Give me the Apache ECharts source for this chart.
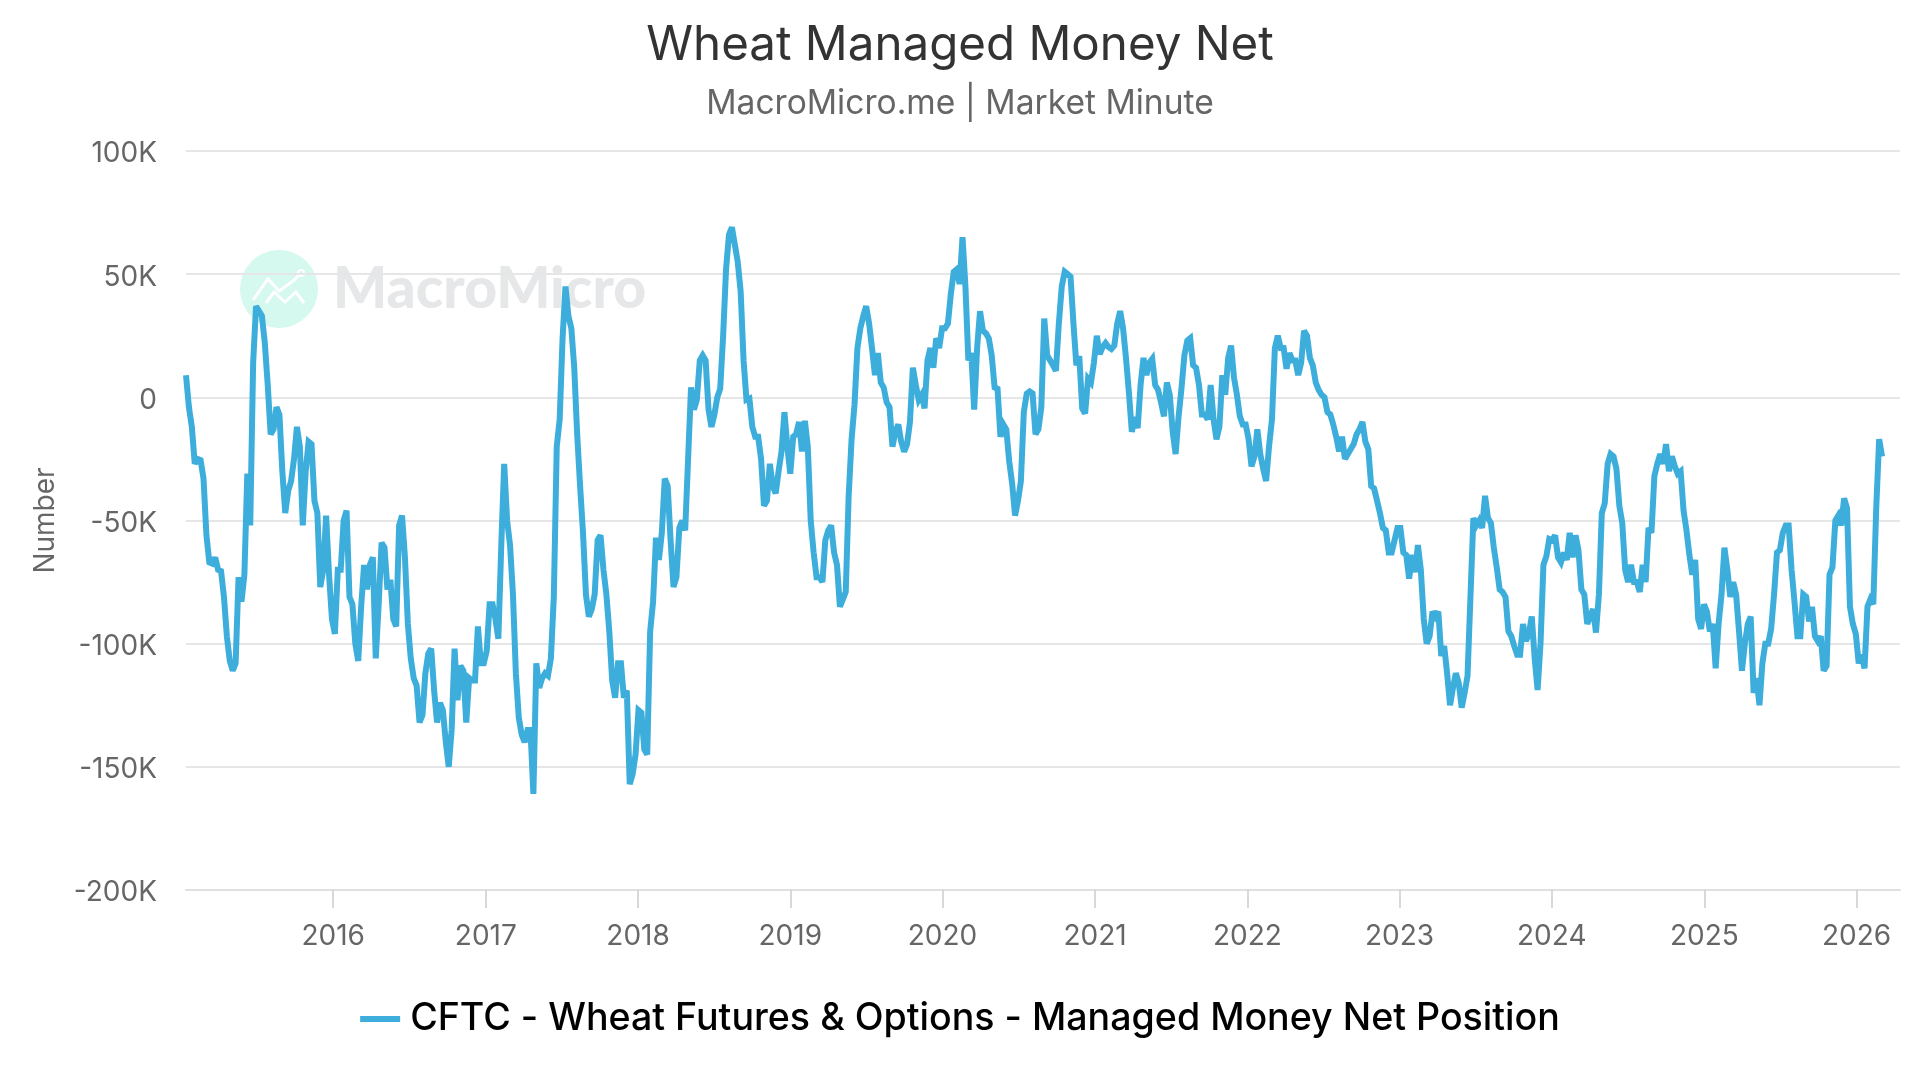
<!DOCTYPE html>
<html><head><meta charset="utf-8">
<style>html,body{margin:0;padding:0;background:#fff}#c{width:1920px;height:1080px}</style>
<script src="https://cdn.jsdelivr.net/npm/echarts@6/dist/echarts.min.js"></script>
</head><body><div id="c"></div>
<script>
const titleText = "Wheat Managed Money Net";
const subtitleText = "MacroMicro.me | Market Minute";
const seriesName = "CFTC - Wheat Futures & Options - Managed Money Net Position";
const firstReport = "2015-01-13";
const axisStart = "2015-01-13";
const axisEnd = "2026-04-15";
// weekly managed money net position, thousands of contracts
const netPositionK = [
9,-4,-12,-27,-25,-25.5,-33,-56,-67,-67.5,
-65,-70,-70.5,-81,-97,-107,-111,-108,-73,-83,
-72,-31,-52,14,37,35,33,22,5,-15,
-13,-4,-7,-30,-47,-38,-34,-25,-12,-20,
-52,-30,-18,-19,-42,-47,-77,-70,-48,-72,
-90,-96,-70,-70,-50,-46,-81,-84,-100,-107,
-85,-68,-78,-68,-65,-106,-84,-59,-61,-78,
-74,-90,-93,-52,-48,-65,-92,-106,-114,-117,
-132,-129,-112,-104,-102,-119,-132,-124,-127,-140,
-150,-135,-102,-123,-109,-111,-132,-114,-115,-115,
-93,-108,-108,-103,-84,-84,-90,-98,-60,-27,
-50,-60,-80,-112,-130,-137,-140,-135,-135,-161,
-108,-118,-114,-112,-113,-106,-81,-20,-9,24,
45,33,28,12,-15,-36,-55,-80,-89,-86,
-80,-58,-56,-70,-80,-95,-115,-122,-108,-108,
-122,-119,-157,-153,-145,-127,-128,-143,-145,-95,
-83,-57,-66,-55,-33,-36,-58,-77,-73,-53,
-50,-54,-25,4,-5,-1,15,17,15,-5,
-12,-7,0,3.5,25,52,66,69,62,55,
43,15,-1,-0.5,-12,-16,-16,-25,-44,-42,
-27,-36,-39,-30,-22,-6,-20,-31,-16,-15,
-10,-22,-9.5,-20,-50,-63,-73,-73,-75,-58,
-54,-52,-63,-68,-85,-82,-79,-40,-17,-3,
20,28,33,37,30,20,9,18,6,4,
-2,-4,-20,-14,-11,-18,-22,-19,-10,12,
5,-1,1,-4.5,15,20,12,24,20,28,
28,30,42,51,52,46,65,45,15,18,
-5,20,35,27,26,24,17,4,3.5,-16,
-11,-13,-26,-35,-48,-42,-34,-6,1.5,2.4,
1.6,-15,-13,-4,32,17,15,13,10.8,30,
45,51,50,49,30,13,16.7,-4.5,-6.6,7.5,
6,14,25,17.5,20.4,22,20.4,19.6,21,30,
35,28,16,2,-14,-8,-12.5,5,16,9,
14,15.6,5,3,-2,-7.7,6,1,-14,-23,
-8,3.5,17,23,24,13,12,5,-7,-7,
-9,5,-9,-17,-12,9,1,16,21,8,
1,-7.7,-11,-11,-17,-28,-24,-13,-23,-29,
-34,-20,-9,20,25,20,20,11.6,18,15,
15,9,14,27,25,16,13,6,3,1,
0,-6,-7,-11,-16,-22,-16,-25,-23,-21,
-19,-15,-13,-10,-18,-21,-36,-37,-42,-47,
-53,-54,-63,-63,-58,-53,-53,-63,-64,-73.6,
-64,-71,-60,-70,-90,-100,-97,-87,-89,-87,
-105,-101,-112,-125,-118,-112,-116,-126,-120,-113,
-81,-49,-52,-50,-53,-40,-49,-51,-61,-69,
-78,-79,-81,-95,-97,-101,-104.5,-104.5,-92,-99,
-96,-89,-106,-118.8,-100,-68,-64.5,-57.5,-58,-56,
-65,-67,-63,-66,-55,-65,-56,-62,-78,-80,
-92,-89,-86,-95.5,-80,-47,-43,-27,-23,-24,
-29,-44,-51,-70,-75,-68,-75,-75,-79,-68,
-75,-53,-55,-32,-27,-23,-27,-19,-30,-24,
-28,-31,-30,-46,-54,-64,-72,-66,-90,-94,
-84,-87,-95,-92,-110,-92,-80,-61,-70,-81,
-75,-80,-95,-111,-100,-92,-89,-120,-114,-125,
-108,-100,-100,-94,-80,-63,-62,-55,-52,-52,
-70,-83,-97,-97,-80,-81,-91,-85,-97,-99,
-97,-111,-109,-72,-69,-50,-48,-52,-41,-45,
-85,-92,-96,-108,-104.5,-110,-85,-82,-84,-45,
-17,-24
];
const font = "Inter";
const WEEK = 7*86400000;
const t0 = Date.parse(firstReport+"T00:00:00Z");
const points = netPositionK.map((v,i)=>[t0+i*WEEK, v*1000]);
const chart = echarts.init(document.getElementById('c'), null, {renderer:'canvas'});
chart.setOption({
  animation:false,
  backgroundColor:'#fff',
  useUTC:true,
  title:[
    {text:titleText,left:'center',top:17,textStyle:{fontFamily:font,fontSize:47.5,fontWeight:400,color:'#333'}},
    {text:subtitleText,left:'center',top:82,textStyle:{fontFamily:font,fontSize:33.6,fontWeight:400,color:'#666'}}
  ],
  grid:{left:186,right:20,top:151,bottom:190},
  legend:{show:true,bottom:37,left:'center',icon:'rect',itemWidth:40,itemHeight:6,itemGap:10,
    textStyle:{fontFamily:font,fontSize:37.6,fontWeight:500,color:'#000',padding:[0,0,0,5]},data:[seriesName]},
  xAxis:{type:'time',min:Date.parse(axisStart+"T00:00:00Z"),max:Date.parse(axisEnd+"T00:00:00Z"),
    splitNumber:12,maxInterval:366*86400000,
    axisLine:{onZero:false,lineStyle:{color:'#e0e0e0',width:2}},
    axisTick:{show:true,length:18,lineStyle:{color:'#cccccc',width:1.5}},
    minorTick:{show:false},
    splitLine:{show:false},
    axisLabel:{fontFamily:font,fontSize:28,color:'#666',margin:33,hideOverlap:false,showMinLabel:false,showMaxLabel:false,
      formatter:v=>String(new Date(v).getUTCFullYear())}},
  yAxis:{type:'value',min:-200000,max:100000,interval:50000,
    name:'Number',nameLocation:'middle',nameGap:126,nameTextStyle:{fontFamily:font,fontSize:28,color:'#666'},
    axisLine:{show:false},axisTick:{show:false},
    splitLine:{lineStyle:{color:'#e6e6e6',width:2}},
    axisLabel:{fontFamily:font,fontSize:28,color:'#666',margin:29,verticalAlign:'top',lineHeight:6,
      formatter:v=>v===0?'0':(v/1000)+'K'}},
  graphic:[
    {type:'circle',shape:{cx:279,cy:289,r:39},style:{fill:'#d5f8ef'},z:-1,silent:true},
    {type:'polyline',shape:{points:[[253,300],[268,279],[279,291],[293,281],[299,275]]},style:{stroke:'#fff',lineWidth:3,fill:null},z:-1,silent:true},
    {type:'circle',shape:{cx:301,cy:273,r:3},style:{stroke:'#fff',lineWidth:2,fill:null},z:-1,silent:true},
    {type:'polyline',shape:{points:[[266,303],[274,292],[285,302],[296,292],[304,303]]},style:{stroke:'#fff',lineWidth:3,fill:null},z:-1,silent:true},
    {type:'text',style:{text:'MacroMicro',x:333,y:290,fill:'#e6e7e9',font:'900 57px Lato',textVerticalAlign:'middle'},z:-1,silent:true}
  ],
  series:[{type:'line',name:seriesName,data:points,showSymbol:false,symbol:'none',sampling:null,
    lineStyle:{color:'#3DAEDB',width:6,join:'miter',miterLimit:3},itemStyle:{color:'#3DAEDB'},z:3}]
});
</script></body></html>
